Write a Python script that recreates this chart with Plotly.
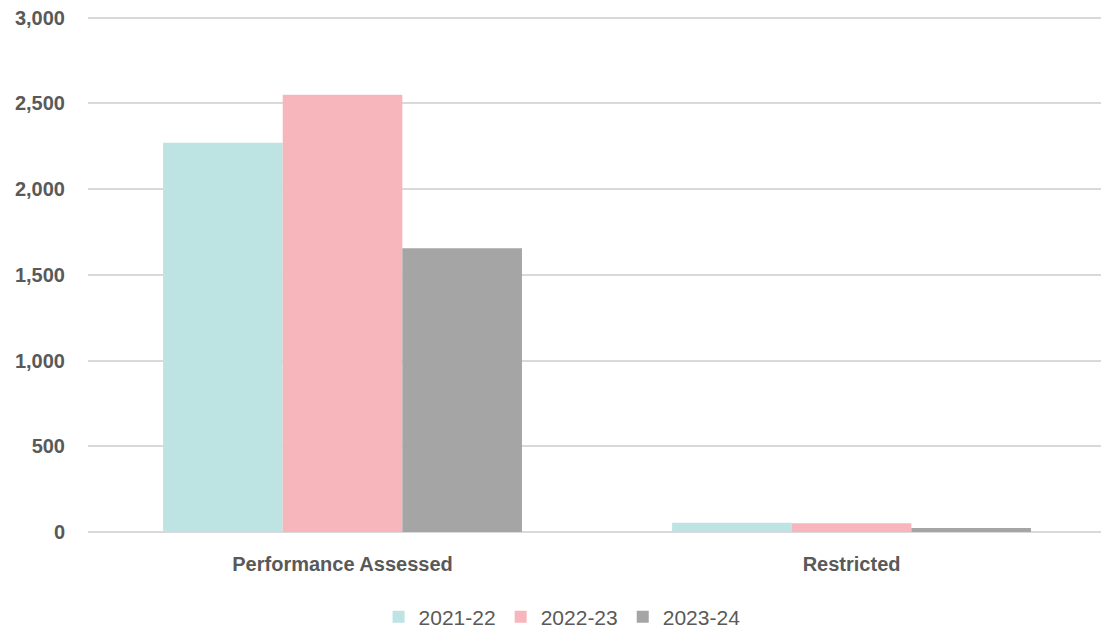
import plotly.graph_objects as go

categories = ["Performance Assessed", "Restricted"]
series_names = ["2021-22", "2022-23", "2023-24"]
values_2021_22 = [2270, 54]
values_2022_23 = [2550, 51]
values_2023_24 = [1655, 23]
colors = ["#BDE3E3", "#F7B6BB", "#A5A5A5"]
y_ticks = [0, 500, 1000, 1500, 2000, 2500, 3000]

fig = go.Figure()
for name, vals, col in zip(series_names, [values_2021_22, values_2022_23, values_2023_24], colors):
    fig.add_trace(go.Bar(x=categories, y=vals, name=name, marker=dict(color=col, line=dict(width=0))))

txt = "#595959"
fig.update_layout(
    width=1101, height=628,
    margin=dict(l=88, r=0, t=16, b=96, autoexpand=False),
    paper_bgcolor="white", plot_bgcolor="white",
    barmode="group", bargap=0.295, bargroupgap=0,
    font=dict(family="Liberation Sans, Arial, sans-serif", color=txt),
    legend=dict(orientation="h", x=0.468, xanchor="center", y=-0.165, yanchor="middle",
                font=dict(size=21, color=txt), itemwidth=30, traceorder="normal"),
    xaxis=dict(range=[-0.5, 1.49], showgrid=False, showline=False, zeroline=False,
               automargin=False,
               ticks="outside", ticklen=14, tickcolor="rgba(0,0,0,0)",
               tickfont=dict(size=20, color=txt, weight="bold")),
    yaxis=dict(range=[0, 3010], tickvals=y_ticks, tickformat=",", showgrid=True,
               automargin=False,
               gridcolor="#D9D9D9", gridwidth=2, zeroline=True, zerolinecolor="#D9D9D9",
               zerolinewidth=2, showline=False, ticks="", ticklabelstandoff=22,
               tickfont=dict(size=20, color=txt, weight="bold")),
)
fig.write_html("out.html", config={"displayModeBar": False},
               post_script="document.body.style.margin='0';document.body.style.overflow='hidden';")
